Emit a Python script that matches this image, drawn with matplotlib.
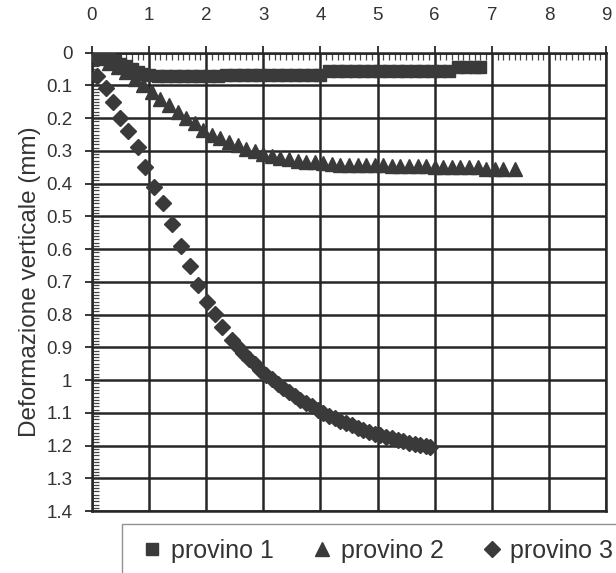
import numpy as np
import matplotlib
matplotlib.use("Agg")
import matplotlib.pyplot as plt
from matplotlib.ticker import MultipleLocator

plt.rcParams['font.family'] = ['Liberation Sans', 'DejaVu Sans']

# provino 1 (squares)
p1_x = [0.0, 0.1, 0.2, 0.3, 0.4, 0.5, 0.6, 0.7, 0.8, 0.9, 1.0, 1.15, 1.3, 1.45, 1.6,
        1.75, 1.9, 2.05, 2.2, 2.35, 2.5, 2.65, 2.8, 2.95, 3.1, 3.25, 3.4, 3.55, 3.7,
        3.85, 4.0, 4.15, 4.3, 4.45, 4.6, 4.75, 4.9, 5.05, 5.2, 5.35, 5.5, 5.65, 5.8,
        5.95, 6.1, 6.25, 6.4, 6.55, 6.7, 6.8]
p1_y = [0.0, 0.006, 0.012, 0.018, 0.026, 0.034, 0.042, 0.050, 0.058, 0.064, 0.068, 0.070, 0.070, 0.071, 0.071,
        0.071, 0.071, 0.070, 0.070, 0.069, 0.069, 0.069, 0.069, 0.069, 0.069, 0.068, 0.068, 0.068, 0.068,
        0.068, 0.068, 0.055, 0.055, 0.055, 0.055, 0.055, 0.055, 0.055, 0.055, 0.055, 0.055, 0.055, 0.055,
        0.055, 0.055, 0.055, 0.045, 0.045, 0.045, 0.045]

# provino 2 (triangles)
p2_x = [0.0, 0.15, 0.3, 0.45, 0.6, 0.75, 0.9, 1.05, 1.2, 1.35, 1.5, 1.65, 1.8, 1.95,
        2.1, 2.25, 2.4, 2.55, 2.7, 2.85, 3.0, 3.15, 3.3, 3.45, 3.6, 3.75, 3.9, 4.05,
        4.2, 4.35, 4.5, 4.65, 4.8, 4.95, 5.1, 5.25, 5.4, 5.55, 5.7, 5.85, 6.0, 6.15,
        6.3, 6.45, 6.6, 6.75, 6.9, 7.05, 7.2, 7.4]
p2_y = [0.0, 0.015, 0.03, 0.045, 0.06, 0.08, 0.10, 0.12, 0.14, 0.16, 0.18, 0.20, 0.215, 0.235,
        0.25, 0.26, 0.272, 0.283, 0.293, 0.30, 0.31, 0.316, 0.322, 0.326, 0.33, 0.333, 0.335, 0.337,
        0.340, 0.342, 0.342, 0.342, 0.342, 0.342, 0.342, 0.345, 0.345, 0.345, 0.345, 0.345, 0.350, 0.350,
        0.350, 0.350, 0.350, 0.350, 0.355, 0.355, 0.355, 0.355]

# provino 3 (diamonds)
p3_x = [0.0, 0.09, 0.24, 0.37, 0.49, 0.64, 0.80, 0.93, 1.08, 1.25, 1.41, 1.56, 1.71, 1.86,
        2.02, 2.16, 2.28, 2.45, 2.55, 2.65, 2.75, 2.85, 2.95, 3.05, 3.15, 3.25, 3.35, 3.45,
        3.55, 3.65, 3.75, 3.85, 3.95, 4.05, 4.15, 4.25, 4.35, 4.45, 4.55, 4.65, 4.75, 4.85,
        4.95, 5.05, 5.15, 5.25, 5.35, 5.45, 5.55, 5.65, 5.75, 5.85, 5.92]
p3_y = [0.0, 0.07, 0.108, 0.149, 0.20, 0.24, 0.288, 0.35, 0.409, 0.46, 0.523, 0.59, 0.651, 0.709,
        0.76, 0.798, 0.837, 0.878, 0.90, 0.917, 0.935, 0.952, 0.968, 0.983, 0.998, 1.012, 1.025, 1.037,
        1.049, 1.06, 1.07, 1.08, 1.09, 1.10, 1.108, 1.116, 1.124, 1.131, 1.138, 1.145, 1.151, 1.157,
        1.163, 1.168, 1.173, 1.178, 1.183, 1.187, 1.191, 1.195, 1.198, 1.202, 1.205]

y_labels = ['0', '0.1', '0.2', '0.3', '0.4', '0.5', '0.6', '0.7', '0.8', '0.9',
            '1', '1.1', '1.2', '1.3', '1.4']

col = '#3a3a3a'

fig = plt.figure(figsize=(6.16, 5.73), dpi=100)
fig.patch.set_facecolor('white')
ax = fig.add_axes([0.149, 0.108, 0.835, 0.8])

ax.plot(p1_x, p1_y, 's', color=col, ms=9, mec=col, label='provino 1', zorder=3)
ax.plot(p2_x, p2_y, '^', color=col, ms=10, mec=col, label='provino 2', zorder=3)
ax.plot(p3_x, p3_y, 'D', color=col, ms=8.5, mec=col, label='provino 3', zorder=3)

ax.set_xlim(0, 9)
ax.set_ylim(1.4, 0)
ax.xaxis.tick_top()
ax.xaxis.set_major_locator(MultipleLocator(1))
ax.xaxis.set_minor_locator(MultipleLocator(0.1))
ax.yaxis.set_minor_locator(MultipleLocator(0.01))
ax.set_yticks(np.arange(0, 1.41, 0.1))
ax.set_yticklabels(y_labels)

ax.grid(True, which='major', color='#262626', lw=1.8)
for s in ax.spines.values():
    s.set_color('#262626')
    s.set_linewidth(1.8)

ax.tick_params(which='major', direction='out', length=5, width=1.3, color='#262626',
               labelsize=13.5, labelcolor='#333333')
ax.tick_params(axis='x', which='major', pad=16)
ax.tick_params(axis='y', which='major', pad=9)
ax.tick_params(which='minor', direction='in', length=5, width=0.9, color='#444444')
ax.tick_params(axis='x', which='both', top=True, bottom=False)
ax.tick_params(axis='y', which='both', left=True, right=False)

ax.set_ylabel('Deformazione verticale (mm)', fontsize=17.5, color='#333333', labelpad=4)

leg = fig.legend(loc='upper left', bbox_to_anchor=(0.198, 0.0855), ncol=3, fontsize=18,
                 frameon=True, fancybox=False, handletextpad=0.15, handlelength=1.2,
                 columnspacing=1.33, borderpad=0.6, borderaxespad=0, markerscale=0.95,
                 labelcolor='#333333')
leg.get_frame().set_edgecolor('#777777')
leg.get_frame().set_linewidth(1.0)

fig.savefig('out.png', dpi=100)
